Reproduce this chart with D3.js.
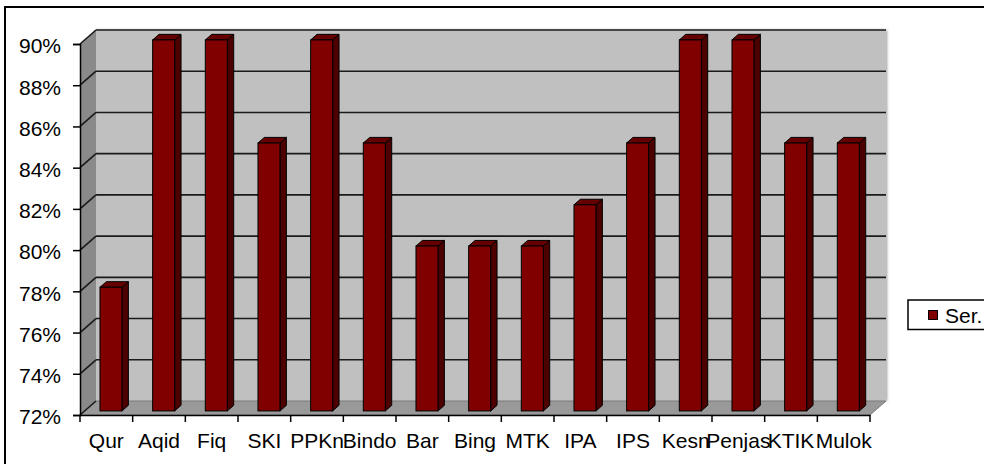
<!DOCTYPE html>
<html>
<head>
<meta charset="utf-8">
<script src="https://cdn.jsdelivr.net/npm/d3@7"></script>
<style>
  html, body { margin: 0; padding: 0; background: #fff; }
  svg { display: block; }
  text { font-family: "Liberation Sans", Arial, sans-serif; fill: #000; }
</style>
</head>
<body>
<svg id="chart" width="984" height="464"></svg>
<script>
// Subjects and their percentage scores
const categories = ["Qur", "Aqid", "Fiq", "SKI", "PPKn", "Bindo", "Bar", "Bing", "MTK", "IPA", "IPS", "Kesn", "Penjas", "KTIK", "Mulok"];
const values = [0.78, 0.90, 0.90, 0.85, 0.90, 0.85, 0.80, 0.80, 0.80, 0.82, 0.85, 0.90, 0.90, 0.85, 0.85];
const yTicks = [0.72, 0.74, 0.76, 0.78, 0.80, 0.82, 0.84, 0.86, 0.88, 0.90];
const seriesName = "Ser.";

(function () {
const svg = d3.select("#chart");
const FONT = '"Liberation Sans", Arial, sans-serif';

// Plot frame (front plane) and depth offset of the 3-D box
const pL = 80, pR = 870, pT = 44, pB = 415;
const DX = 16, DY = -14;

const x = d3.scaleBand().domain(categories).range([pL, pR]).padding(0);
const y = d3.scaleLinear().domain([0.72, 0.90]).range([pB, pT]);

// Soft edge around the walls
const defs = svg.append("defs");
defs.append("filter").attr("id", "soft").attr("x", "-5%").attr("y", "-5%").attr("width", "110%").attr("height", "110%")
  .append("feGaussianBlur").attr("stdDeviation", 1.5);

// Outer chart border
svg.append("rect")
  .attr("x", 5).attr("y", 7).attr("width", 1000).attr("height", 480)
  .attr("fill", "#fff").attr("stroke", "#000").attr("stroke-width", 2);

const g = svg.append("g");

// Shadow fringe behind the back wall
g.append("rect")
  .attr("x", pL + DX).attr("y", pT + DY)
  .attr("width", pR - pL + 1).attr("height", pB - pT)
  .attr("fill", "#9a9a9a").attr("filter", "url(#soft)");

// Back wall
g.append("rect")
  .attr("x", pL + DX).attr("y", pT + DY)
  .attr("width", pR - pL).attr("height", pB - pT)
  .attr("fill", "#c0c0c0");

// Side wall
g.append("polygon")
  .attr("points", [[pL, pT], [pL + DX, pT + DY], [pL + DX, pB + DY], [pL, pB]].join(" "))
  .attr("fill", "#8a8a8a");

// Floor
g.append("polygon")
  .attr("points", [[pL, pB], [pL + DX, pB + DY], [pR + DX, pB + DY], [pR, pB]].join(" "))
  .attr("fill", "#999999").attr("stroke", "#7a7a7a").attr("stroke-width", 1);

// Gridlines on the back and side walls
yTicks.forEach(t => {
  const yy = y(t);
  if (t > 0.72) {
    g.append("line")
      .attr("x1", pL + DX).attr("x2", pR + DX)
      .attr("y1", yy + DY).attr("y2", yy + DY)
      .attr("stroke", "#1a1a1a").attr("stroke-width", 1.6);
  }
  g.append("line")
    .attr("x1", pL).attr("y1", yy)
    .attr("x2", pL + DX).attr("y2", yy + DY)
    .attr("stroke", "#1a1a1a").attr("stroke-width", 1.6);
});

// Bars: front face, top and right side
const bw = 22;
const d1 = 0.29, d2 = 0.69;
const sdx = (d2 - d1) * DX, sdy = (d2 - d1) * DY;
const bars = g.selectAll("g.bar").data(categories.map((c, i) => ({ c, v: values[i] })))
  .enter().append("g").attr("class", "bar");

bars.each(function (d) {
  const sel = d3.select(this);
  const xf = x(d.c) + (x.bandwidth() - bw) / 2 + d1 * DX;
  const yt = y(d.v) + d1 * DY;
  const yb = y(0.72) + d1 * DY;
  sel.append("polygon")
    .attr("points", [[xf + bw, yt], [xf + bw + sdx, yt + sdy], [xf + bw + sdx, yb + sdy], [xf + bw, yb]].join(" "))
    .attr("fill", "#4c0000").attr("stroke", "#000").attr("stroke-width", 1).attr("stroke-linejoin", "round");
  sel.append("polygon")
    .attr("points", [[xf, yt], [xf + bw, yt], [xf + bw + sdx, yt + sdy], [xf + sdx, yt + sdy]].join(" "))
    .attr("fill", "#660000").attr("stroke", "#000").attr("stroke-width", 1).attr("stroke-linejoin", "round");
  sel.append("rect")
    .attr("x", xf).attr("y", yt).attr("width", bw).attr("height", yb - yt)
    .attr("fill", "#800000").attr("stroke", "#000").attr("stroke-width", 1);
});

// Value axis
const yAxis = d3.axisLeft(y).tickValues(yTicks).tickSize(7).tickPadding(12)
  .tickFormat(d => Math.round(d * 100) + "%");
const ya = svg.append("g").attr("transform", `translate(${pL},0)`).call(yAxis);
ya.select(".domain").attr("stroke", "#000").attr("stroke-width", 1.5);
ya.selectAll(".tick line").attr("stroke", "#000").attr("stroke-width", 1.5);
ya.selectAll(".tick text")
  .style("font-family", FONT)
  .style("font-size", "21px").attr("dy", "0.42em").attr("fill", "#000");

// Category axis
const xAxis = d3.axisBottom(x).tickSize(0).tickPadding(18);
const xa = svg.append("g").attr("transform", `translate(0,${pB})`).call(xAxis);
xa.select(".domain").attr("stroke", "#000").attr("stroke-width", 1.5);
xa.selectAll(".tick text")
  .style("font-family", FONT)
  .style("font-size", "21px").attr("fill", "#000");

// Tick marks between categories
const bounds = d3.range(categories.length + 1).map(i => pL + i * x.step());
xa.selectAll("line.sep").data(bounds).enter().append("line").attr("class", "sep")
  .attr("x1", d => d).attr("x2", d => d).attr("y1", 0).attr("y2", 7)
  .attr("stroke", "#000").attr("stroke-width", 1.5);

// Legend
const lg = svg.append("g").attr("transform", "translate(908,300)");
lg.append("rect").attr("width", 90).attr("height", 29.5)
  .attr("fill", "#fff").attr("stroke", "#000").attr("stroke-width", 1.5);
lg.append("rect").attr("x", 20.5).attr("y", 10.5).attr("width", 9).attr("height", 9)
  .attr("fill", "#800000").attr("stroke", "#000").attr("stroke-width", 1);
lg.append("text").attr("x", 37).attr("y", 22.5).style("font-family", FONT).style("font-size", "21px").text(seriesName);
})();
</script>
</body>
</html>
